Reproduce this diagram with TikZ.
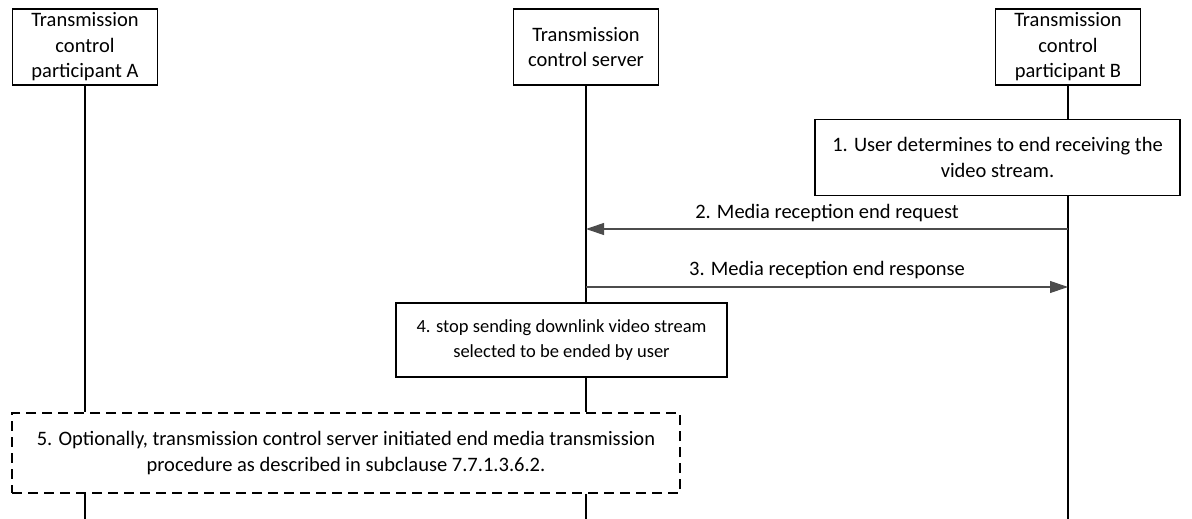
\documentclass[tikz,border=0pt]{standalone}
\usepackage{fontspec}
\setmainfont{Carlito}
\usetikzlibrary{arrows.meta}
\begin{document}
\begin{tikzpicture}[x=1pt,y=-1pt,
  every node/.style={font=\fontsize{20.5}{25.5}\selectfont, align=center, inner sep=0pt},
  ent/.style={draw, line width=1.4pt, minimum width=145pt, minimum height=76pt},
  act/.style={draw, line width=1.4pt},
  opt/.style={draw, line width=1.4pt, dash pattern=on 10pt off 6pt},
  life/.style={line width=1.4pt},
  msg/.style={draw=black!70, line width=1.1pt, -{Triangle[length=18pt,width=12pt]}},
  lbl/.style={font=\fontsize{20.5}{25.5}\selectfont}]
\useasboundingbox (0,0) rectangle (1192,519);
\node[ent] (A) at (85,47) {Transmission\\control\\participant A};
\node[ent] (S) at (586,47) {Transmission\\control server};
\node[ent] (B) at (1068,47) {Transmission\\control\\participant B};
\node[act, minimum width=365pt, minimum height=76pt] (s1) at (997.5,157.5) {1. User determines to end receiving the\\video stream.};
\node[act, minimum width=331pt, minimum height=74pt, font=\fontsize{18.5}{25}\selectfont] (s4) at (561.5,340) {4. stop sending downlink video stream\\selected to be ended by user};
\node[opt, minimum width=668pt, minimum height=80pt] (s5) at (346,453) {5. Optionally, transmission control server initiated end media transmission\\procedure as described in subclause 7.7.1.3.6.2.};
\coordinate (endA) at (85,519);
\coordinate (endS) at (586,519);
\coordinate (endB) at (1068,519);
% lifelines
\draw[life] (A.south) -- (A.south |- s5.north);
\draw[life] (A.south |- s5.south) -- (endA);
\draw[life] (S.south) -- (S.south |- s4.north);
\draw[life] (S.south |- s4.south) -- (S.south |- s5.north);
\draw[life] (S.south |- s5.south) -- (endS);
\draw[life] (B.south) -- (B.south |- s1.north);
\draw[life] (B.south |- s1.south) -- (endB);
% messages
\coordinate (m2b) at (1068,229);
\coordinate (m2s) at (586,229);
\coordinate (m3s) at (586,287);
\coordinate (m3b) at (1068,287);
\draw[msg] (m2b) -- node[lbl, above=7pt] {2. Media reception end request} (m2s);
\draw[msg] (m3s) -- node[lbl, above=8pt] {3. Media reception end response} (m3b);
\end{tikzpicture}
\end{document}
